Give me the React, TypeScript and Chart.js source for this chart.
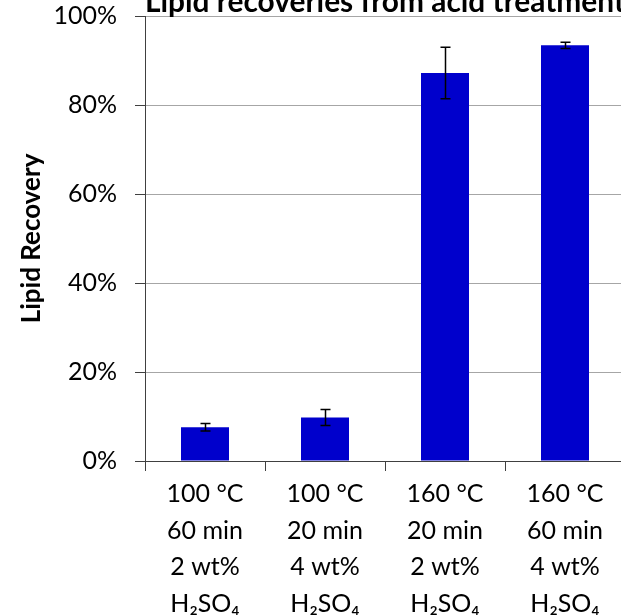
import React, { useEffect, useRef } from "react";
import { Chart, registerables } from "chart.js";

Chart.register(...registerables);

const categories: string[][] = [
  ["100 °C", "60 min", "2 wt%", "H₂SO₄"],
  ["100 °C", "20 min", "4 wt%", "H₂SO₄"],
  ["160 °C", "20 min", "2 wt%", "H₂SO₄"],
  ["160 °C", "60 min", "4 wt%", "H₂SO₄"],
];
const recoveryValues: number[] = [7.6, 9.8, 87.2, 93.4];
const recoveryErrors: number[] = [0.85, 1.8, 5.8, 0.7];
const yTicks: number[] = [0, 20, 40, 60, 80, 100];

const FONT = "Lato, 'Open Sans', sans-serif";

const errorBarPlugin = {
  id: "errorBars",
  afterDatasetsDraw(chart: any) {
    const meta = chart.getDatasetMeta(0);
    const yScale = chart.scales.y;
    const ctx = chart.ctx;
    ctx.save();
    ctx.strokeStyle = "#000";
    ctx.lineWidth = 1.5;
    meta.data.forEach((bar: any, i: number) => {
      const v = recoveryValues[i];
      const e = recoveryErrors[i];
      const x = Math.round(bar.x) + 0.5;
      const yTop = yScale.getPixelForValue(v + e);
      const yBot = yScale.getPixelForValue(v - e);
      ctx.beginPath();
      ctx.moveTo(x, yTop);
      ctx.lineTo(x, yBot);
      ctx.moveTo(x - 5, yTop);
      ctx.lineTo(x + 5, yTop);
      ctx.moveTo(x - 5, yBot);
      ctx.lineTo(x + 5, yBot);
      ctx.stroke();
    });
    ctx.restore();
  },
};

export default function App() {
  const ref = useRef<HTMLCanvasElement | null>(null);
  useEffect(() => {
    if (!ref.current) return;
    const chart = new Chart(ref.current, {
      type: "bar",
      data: {
        labels: categories,
        datasets: [
          {
            data: recoveryValues,
            backgroundColor: "#0000CC",
            borderWidth: 0,
            categoryPercentage: 1,
            barPercentage: 0.4,
          },
        ],
      },
      options: {
        animation: false,
        responsive: false,
        devicePixelRatio: 1,
        layout: { padding: { top: 0, right: 75, bottom: 0, left: 0 } },
        plugins: {
          legend: { display: false },
          tooltip: { enabled: false },
          title: {
            display: true,
            text: "Lipid recoveries from acid treatment",
            fullSize: false,
            color: "#000",
            font: { family: FONT, size: 30, weight: "bold", lineHeight: 0.9 },
            padding: { top: 24, bottom: 0 },
          },
        },
        scales: {
          x: {
            offset: true,
            grid: {
              offset: true,
              drawOnChartArea: false,
              drawTicks: true,
              tickLength: 10,
              tickColor: "#404040",
              tickWidth: 1,
            },
            border: { color: "#404040", width: 1 },
            ticks: {
              color: "#000",
              padding: 5,
              font: { family: FONT, size: 25, lineHeight: 1.46 },
              maxRotation: 0,
              autoSkip: false,
            },
            afterFit(scale: any) {
              scale.height = 155;
            },
          },
          y: {
            min: 0,
            max: 100,
            afterBuildTicks(scale: any) {
              scale.ticks = yTicks.map((v) => ({ value: v }));
            },
            grid: {
              color: "#a6a6a6",
              lineWidth: 1,
              drawTicks: true,
              tickLength: 10,
              tickColor: "#404040",
              tickWidth: 1,
            },
            border: { color: "#404040", width: 1 },
            ticks: {
              color: "#000",
              padding: 18,
              font: { family: FONT, size: 25 },
              callback: (v: any) => v + "%",
            },
            title: {
              display: true,
              text: "Lipid Recovery",
              color: "#000",
              font: { family: FONT, size: 26, weight: "bold", lineHeight: 1.2 },
              padding: { top: 16, bottom: 0 },
            },
            afterFit(scale: any) {
              scale.width = 145;
            },
          },
        },
      },
      plugins: [errorBarPlugin],
    });
    return () => chart.destroy();
  }, []);

  return (
    <div
      style={{
        position: "fixed",
        top: 0,
        left: 0,
        width: 621,
        height: 616,
        overflow: "hidden",
        background: "#fff",
      }}
    >
      <canvas
        ref={ref}
        width={700}
        height={651}
        style={{ position: "absolute", top: -35, left: 0, width: 700, height: 651 }}
      />
    </div>
  );
}
